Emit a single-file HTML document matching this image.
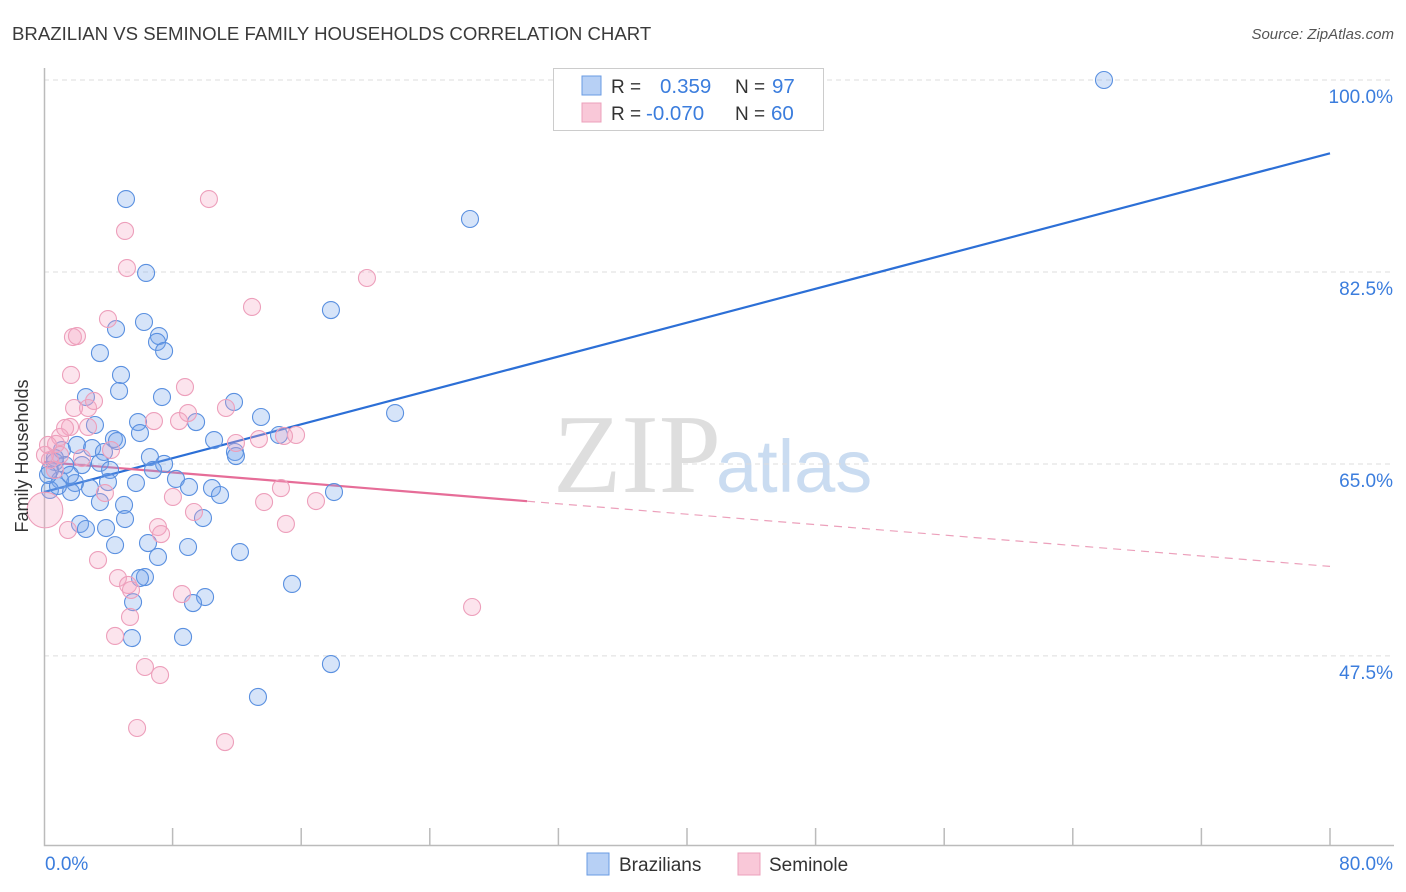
<!DOCTYPE html>
<html><head><meta charset="utf-8"><style>
body{margin:0;background:#fff;font-family:"Liberation Sans",sans-serif;}
#wrap{position:relative;width:1406px;height:892px;overflow:hidden;}
</style></head><body>
<div id="wrap">
<svg id="chart" width="1406" height="892">
  <text x="12" y="40" font-size="18.6" fill="#3a3a3a">BRAZILIAN VS SEMINOLE FAMILY HOUSEHOLDS CORRELATION CHART</text>
  <text x="1394" y="39" font-size="15" font-style="italic" fill="#555" text-anchor="end">Source: ZipAtlas.com</text>
  <g>
    <text x="553" y="492" font-size="112" font-family="Liberation Serif,serif" fill="#dedede">ZIP</text>
    <text x="716" y="492" font-size="74" fill="#cadcf1">atlas</text>
  </g>
  <g id="grid"></g>
  <g id="axes"></g>
  <g id="lines"></g>
  <g id="points"></g>
  <text x="28" y="456" font-size="18" fill="#333" text-anchor="middle" transform="rotate(-90 28 456)">Family Households</text>
  <g>
    <rect x="553.5" y="68.5" width="270" height="62" fill="#fff" stroke="#ccc"/>
    <rect x="582" y="76" width="19" height="19" fill="#b7d0f5" stroke="#6a9be3"/>
    <rect x="582" y="103" width="19" height="19" fill="#f9c8d8" stroke="#eca0bb"/>
    <text x="611" y="93" font-size="19" fill="#333">R = <tspan x="660" fill="#3b7ddd" font-size="20.5">0.359</tspan><tspan x="735" fill="#333">N = </tspan><tspan x="772" fill="#3b7ddd" font-size="20.5">97</tspan></text>
    <text x="611" y="120" font-size="19" fill="#333">R = <tspan x="646" fill="#3b7ddd" font-size="20.5">-0.070</tspan><tspan x="735" fill="#333">N = </tspan><tspan x="771" fill="#3b7ddd" font-size="20.5">60</tspan></text>
  </g>
  <g>
    <rect x="587" y="853" width="22" height="22" fill="#b7d0f5" stroke="#6a9be3"/>
    <text x="619" y="871" font-size="19" fill="#333">Brazilians</text>
    <rect x="738" y="853" width="22" height="22" fill="#f9c8d8" stroke="#eca0bb"/>
    <text x="769" y="871" font-size="19" fill="#333">Seminole</text>
  </g>
</svg>
</div>
<script>
const yTicks=[100,82.5,65,47.5];
const yTickLabels=["100.0%","82.5%","65.0%","47.5%"];
const xTickCount=10;
const xLabels=["0.0%","80.0%"];
const blueX=[65.94,5.10,26.5,6.35,17.85,6.22,4.48,7.15,7.03,7.47,3.48,4.79,4.67,2.61,7.34,11.82,21.84,13.5,9.46,5.85,3.17,5.97,4.35,4.54,10.58,14.62,1.12,2.05,2.99,3.73,11.88,11.94,6.59,7.47,0.68,1.31,0.37,2.36,3.48,4.11,6.78,8.21,1.0,1.93,3.98,5.72,9.02,10.45,10.95,18.04,1.68,2.86,3.48,4.98,9.89,5.04,2.24,3.86,2.61,6.47,8.96,4.42,12.19,7.09,6.28,5.97,15.43,10.02,9.27,5.54,8.65,5.47,17.85,13.31,0.37,0.87,0.25,1.62,0.68];
const blueY=[100,89.15,87.33,82.41,79.03,77.94,77.3,76.66,76.12,75.3,75.11,73.11,71.65,71.1,71.1,70.65,69.64,69.28,68.82,68.82,68.55,67.82,67.27,67.09,67.18,67.64,66.27,66.73,66.45,66.09,66.09,65.72,65.63,65.0,65.18,64.9,64.45,64.9,65.1,64.45,64.45,63.63,63.54,63.26,63.35,63.26,62.9,62.8,62.17,62.44,62.44,62.8,61.53,61.26,60.07,59.98,59.53,59.16,59.07,57.79,57.43,57.6,56.97,56.52,54.69,54.6,54.06,52.87,52.32,52.4,49.23,49.13,46.76,43.76,62.63,62.99,64.0,64.0,65.54];
const pinkX=[10.26,5.04,5.16,20.09,12.94,3.98,1.8,2.05,1.68,8.77,1.87,2.74,3.11,11.32,8.96,6.84,8.4,1.62,2.74,1.0,0.75,1.31,11.94,13.37,15.68,14.93,4.17,1.0,2.36,0.37,14.74,16.92,8.02,13.69,9.33,3.79,15.05,7.09,7.28,1.49,3.36,4.6,5.23,5.41,8.58,5.35,4.42,6.28,7.22,26.63,5.79,11.26,0.06,0.68,0.06,0.25];
const pinkY=[89.15,86.24,82.86,81.95,79.31,78.21,76.57,76.66,73.11,72.01,70.1,70.1,70.74,70.1,69.64,68.91,68.91,68.37,68.37,67.46,66.82,68.28,66.91,67.27,67.64,67.55,66.27,65.82,65.54,65.36,62.8,61.62,61.99,61.53,60.62,62.35,59.53,59.25,58.61,58.98,56.24,54.6,53.97,53.51,53.14,51.05,49.32,46.49,45.76,51.96,40.93,39.65,60.8,64.45,65.82,66.73];
const pinkSize=[1,1,1,1,1,1,1,1,1,1,1,1,1,1,1,1,1,1,1,1,1,1,1,1,1,1,1,1,1,1,1,1,1,1,1,1,1,1,1,1,1,1,1,1,1,1,1,1,1,1,1,1,2.1,1,1,1];
const blueTrend=[62.44,0.386];
const pinkTrend=[65.18,-0.119];
const pinkSolidEnd=30.05;

const NS="http://www.w3.org/2000/svg";
const xs=v=>44+v*16.075;
const ys=v=>80+(100-v)*10.97;
function mk(tag,attrs,parent){const e=document.createElementNS(NS,tag);for(const k in attrs)e.setAttribute(k,attrs[k]);parent.appendChild(e);return e;}
const grid=document.getElementById('grid'),axes=document.getElementById('axes'),lines=document.getElementById('lines'),pts=document.getElementById('points');
yTicks.forEach((t,i)=>{
  const l=mk('line',{x1:44,x2:1394,y1:ys(t),y2:ys(t),stroke:'#ddd','stroke-dasharray':'5,4'},grid);
  
  
  const tx=mk('text',{x:1393,y:ys(t)+23,'font-size':19,fill:'#3b7ddd','text-anchor':'end'},grid);
  tx.textContent=yTickLabels[i];
  
  
});
const ax=mk('path',{d:'M44.5 68 V845.5 H1394',fill:'none',stroke:'#bbb','stroke-width':1.5},axes);


for(let i=1;i<=xTickCount;i++){
  const x=xs(i*8);
  const t=mk('line',{x1:x,x2:x,y1:828,y2:845,stroke:'#bbb','stroke-width':1.5},axes);
  
  
}
const xl0=mk('text',{x:45,y:870,'font-size':19,fill:'#3b7ddd'},axes);xl0.textContent=xLabels[0];


const xl1=mk('text',{x:1393,y:870,'font-size':19,fill:'#3b7ddd','text-anchor':'end'},axes);xl1.textContent=xLabels[1];



blueX.forEach((x,i)=>{
  const c=mk('circle',{cx:xs(x),cy:ys(blueY[i]),r:8.5,fill:'rgba(120,165,235,0.3)',stroke:'#5a90e0','stroke-width':1.1},pts);
  
  
});
pinkX.forEach((x,i)=>{
  const c=mk('circle',{cx:xs(x),cy:ys(pinkY[i]),r:8.5*pinkSize[i],fill:'rgba(245,165,195,0.3)',stroke:'#ed9fbb','stroke-width':1.1},pts);
  
  
});
const bl=mk('line',{x1:xs(0),y1:ys(blueTrend[0]),x2:xs(80),y2:ys(blueTrend[0]+blueTrend[1]*80),stroke:'#2c6fd6','stroke-width':2.2},lines);


const pl=mk('line',{x1:xs(0),y1:ys(pinkTrend[0]),x2:xs(pinkSolidEnd),y2:ys(pinkTrend[0]+pinkTrend[1]*pinkSolidEnd),stroke:'#e66d98','stroke-width':2.2},lines);


const pd=mk('line',{x1:xs(pinkSolidEnd),y1:ys(pinkTrend[0]+pinkTrend[1]*pinkSolidEnd),x2:xs(80),y2:ys(pinkTrend[0]+pinkTrend[1]*80),stroke:'#eca0bb','stroke-width':1.2,'stroke-dasharray':'8,6'},lines);


</script>
</body></html>
